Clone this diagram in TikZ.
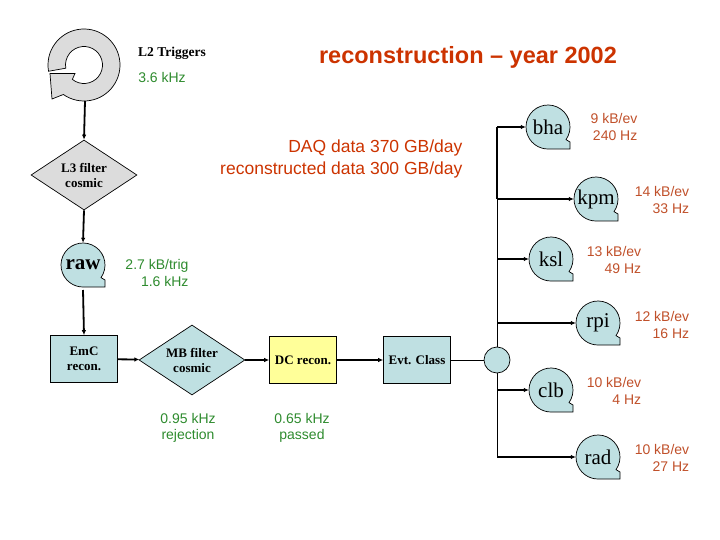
\documentclass[tikz,border=0pt]{standalone}
\usepackage{fontspec}
\setmainfont{Liberation Serif}
\newfontfamily\sans{Liberation Sans}
\usetikzlibrary{arrows.meta,shapes.geometric,calc}
\definecolor{lb}{HTML}{BFE0E2}
\definecolor{gr}{HTML}{DCDCDC}
\definecolor{yl}{HTML}{FFFF99}
\definecolor{rd}{HTML}{CC3300}
\definecolor{rl}{HTML}{C0502A}
\definecolor{gn}{HTML}{2E8B2E}
\tikzset{
  arr/.style={line width=1.8pt,-{Latex[length=5pt,width=4.5pt]}},
  thinl/.style={line width=0.7pt},
  boxn/.style={draw,fill=lb,minimum width=67pt,minimum height=47pt,font=\bfseries\fontsize{13}{15}\selectfont,align=center,inner sep=1pt,line width=0.7pt},
  dia/.style={draw,diamond,fill=lb,minimum width=106pt,minimum height=70pt,aspect=1.5,inner sep=0pt,font=\bfseries\fontsize{13}{15}\selectfont,align=center,line width=0.7pt},
  tapest/.style={draw,fill=lb,line width=0.7pt},
  tapelab/.style={circle,inner sep=0pt,font=\fontsize{21}{23}\selectfont},
  grn/.style={text=gn,font=\sans\fontsize{14}{16.5}\selectfont,align=right},
  red/.style={text=rl,font=\sans\fontsize{14}{16.5}\selectfont,align=right}
}
\newcommand\tape[5]{%
  \filldraw[tapest] ($(#2,#3)+(-35:#4pt)$) arc[start angle=-35,end angle=270,radius=#4pt] -- ++(#4pt,0) -- ++(0,7pt) -- cycle;
  \node[tapelab,minimum size=2*#4pt] (#1) at (#2,#3) {#5};}
\begin{document}
\begin{tikzpicture}[x=1pt,y=1pt]
\useasboundingbox (0,0) rectangle (720,-540);
% circular arrow
\coordinate (cc) at (84,-65);
\filldraw[fill=gr,line width=0.7pt] ($(cc)+(190:36pt)$) arc[start angle=190,end angle=-125,radius=36pt]
  -- (52,-99) -- (50,-73.5) -- (75,-73.5) -- ($(cc)+(-129:18.5pt)$)
  arc[start angle=-129,end angle=190,radius=18.5pt] -- cycle;
\coordinate (l2) at (85,-101);
\node[font=\bfseries\fontsize{13.5}{15}\selectfont] (l2t) at (172,-53) {L2 Triggers};
\node[grn] (g1) at (162,-77) {3.6 kHz};
\node[text=rd,font=\sans\bfseries\fontsize{23.5}{28}\selectfont] (title) at (468,-57) {reconstruction – year 2002};
\node[text=rd,font=\sans\fontsize{17.5}{21.5}\selectfont,align=right,anchor=east] (daq) at (466,-159) {DAQ data 370 GB/day\\reconstructed data 300 GB/day};
\node[dia,fill=gr] (l3) at (84,-175) {L3 filter\\cosmic};
\tape{raw}{83}{-265}{22}{\bfseries raw}
\node[grn] (g2) at (157,-273) {2.7 kB/trig\\1.6 kHz};
\node[boxn] (emc) at (84,-359) {EmC\\recon.};
\node[dia] (mb) at (192,-360) {MB filter\\cosmic};
\node[boxn,fill=yl] (dc) at (303,-360) {DC recon.};
\node[boxn] (evt) at (417,-360) {Evt. Class};
\node[grn,align=center] (g3) at (188,-428) {0.95 kHz\\rejection};
\node[grn,align=center] (g4) at (302,-428) {0.65 kHz\\passed};
\node[draw,circle,fill=lb,minimum size=26pt,inner sep=0pt,line width=0.7pt] (hub) at (497,-360) {};
\draw[arr] (l2) -- (l3.north);
\draw[arr] (l3.south) -- (raw.north);
\draw[arr] (83,-290) -- (emc.north);
\draw[arr] (emc) -- (mb);
\draw[arr] (mb) -- (dc);
\draw[arr] (dc) -- (evt);
\draw[thinl] (evt) -- (hub);
% outputs
\tape{bha}{548}{-127}{22}{bha}
\tape{kpm}{596}{-199}{22}{kpm}
\tape{ksl}{551}{-259}{22}{ksl}
\tape{rpi}{598}{-323}{22}{rpi}
\tape{clb}{551}{-390}{22}{clb}
\tape{rad}{598}{-457}{22}{rad}
\coordinate (b1) at (497,-127);
\coordinate (b2) at (497,-199);
\coordinate (b3) at (497,-259);
\coordinate (b4) at (497,-323);
\coordinate (b5) at (497,-390);
\coordinate (b6) at (497,-457);
\draw[line width=1.8pt] (b1) -- (b2);
\draw[thinl] (b2) -- (hub.north);
\draw[thinl] (hub.south) -- (b6);
\foreach \i/\n in {1/bha,2/kpm,3/ksl,4/rpi,5/clb,6/rad}{\draw[arr] (b\i) -- (\n.west);}
\node[red] (t1) at (614,-127) {9 kB/ev\\240 Hz};
\node[red] (t2) at (662,-200) {14 kB/ev\\33 Hz};
\node[red] (t3) at (614,-260) {13 kB/ev\\49 Hz};
\node[red] (t4) at (662,-325) {12 kB/ev\\16 Hz};
\node[red] (t5) at (614,-391) {10 kB/ev\\4 Hz};
\node[red] (t6) at (662,-458) {10 kB/ev\\27 Hz};
\end{tikzpicture}
\end{document}
